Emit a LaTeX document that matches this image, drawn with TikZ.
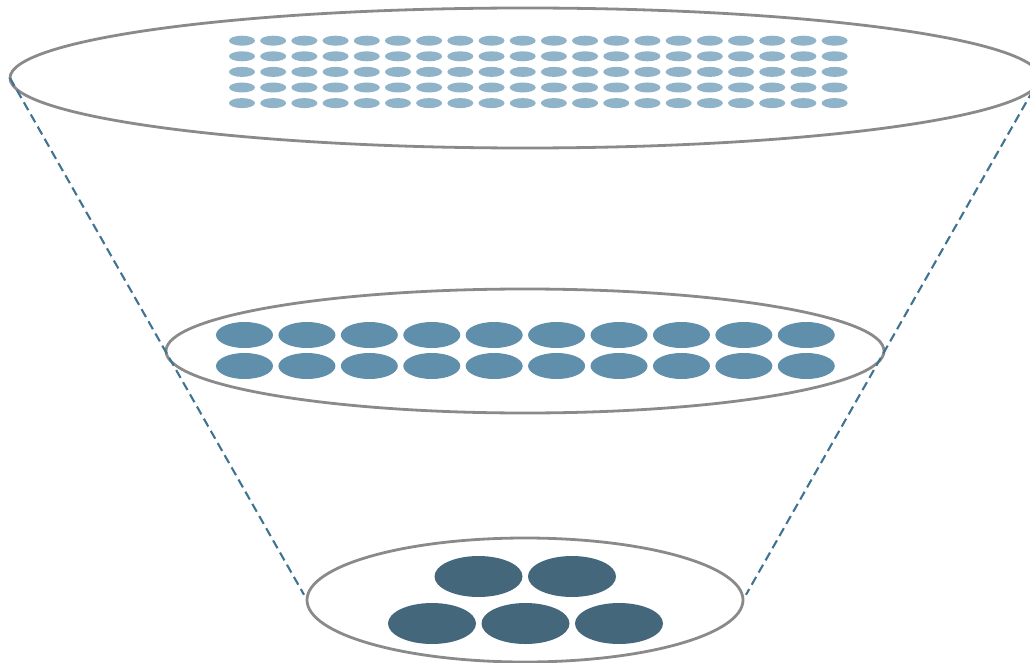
\documentclass[tikz,border=0pt]{standalone}
\usetikzlibrary{shapes.geometric}
\definecolor{rimgray}{HTML}{8A8A8A}
\definecolor{guideblue}{HTML}{3F7391}
\definecolor{dotlight}{HTML}{8FB3C9}
\definecolor{dotmid}{HTML}{5F8FAB}
\definecolor{dotdark}{HTML}{44677C}
\begin{document}
\begin{tikzpicture}[x=1pt,y=-1pt,
  levelring/.style={ellipse, draw=rimgray, line width=2.8pt, inner sep=0pt, outer sep=0pt},
  guideline/.style={draw=guideblue, line width=2.1pt, dash pattern=on 9pt off 5pt},
]
  \useasboundingbox (0,0) rectangle (1030,663);
  \clip (0,0) rectangle (1030,663);

  % three levels of the funnel
  \node[levelring, minimum width=1030pt, minimum height=140pt] (top) at (525,78) {};
  \node[levelring, minimum width=718pt, minimum height=124pt] (mid) at (525,351) {};
  \node[levelring, minimum width=436pt, minimum height=124pt] (bot) at (525,600) {};

  % funnel sides
  \draw[guideline, shorten >=6pt] (top.west) -- (bot.west);
  \draw[guideline, shorten >=6pt] (top.east) -- (bot.east);

  % many small items on the top level
  \foreach \c in {0,...,19}
    \foreach \r in {0,...,4}
      \fill[dotlight] (242+31.19*\c, 40.7+15.6*\r) ellipse [x radius=13, y radius=5];

  % fewer, larger items on the middle level
  \foreach \c in {0,...,9}
    \foreach \yy in {335,366}
      \fill[dotmid] (244.5+62.42*\c, \yy) ellipse [x radius=28.5, y radius=13];

  % the few largest items at the bottom
  \foreach \xx/\yy in {478.5/576.5, 572/576.5, 432/623.5, 525.5/623.5, 619/623.5}
    \fill[dotdark] (\xx,\yy) ellipse [x radius=44, y radius=20.5];
\end{tikzpicture}
\end{document}
